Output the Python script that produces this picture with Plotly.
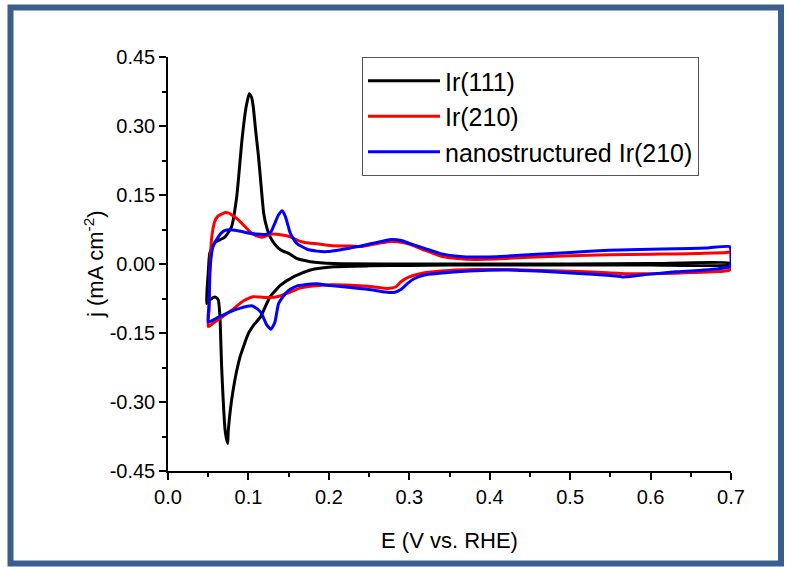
import plotly.graph_objects as go

# ---------------- data ----------------
names = ["Ir(111)", "Ir(210)", "nanostructured Ir(210)"]
colors = ["#000000", "#FF0000", "#0000FF"]

# Ir(111): anodic sweep then cathodic sweep
ir111_E = [0.048, 0.050, 0.052, 0.058, 0.065, 0.071, 0.079, 0.0855, 0.092, 0.097,
           0.101, 0.104, 0.106, 0.109, 0.1125, 0.116, 0.119, 0.123, 0.127, 0.132,
           0.1375, 0.143, 0.150, 0.160, 0.177, 0.206, 0.30, 0.40, 0.50, 0.60, 0.70,
           0.70, 0.60, 0.50, 0.40, 0.30, 0.25, 0.206, 0.177, 0.156, 0.140, 0.127,
           0.115, 0.107, 0.100, 0.0896, 0.081, 0.075, 0.0742, 0.0725, 0.071, 0.0667,
           0.0646, 0.0625, 0.059, 0.056, 0.052, 0.048]
ir111_j = [-0.086, -0.020, 0.024, 0.046, 0.053, 0.059, 0.081, 0.147, 0.270, 0.340,
           0.370, 0.362, 0.342, 0.290, 0.234, 0.165, 0.110, 0.078, 0.059, 0.045,
           0.034, 0.028, 0.023, 0.012, 0.005, 0.001, 0.000, 0.000, 0.000, 0.001, 0.002,
           -0.002, -0.002, -0.002, -0.002, -0.003, -0.004, -0.006, -0.013, -0.028, -0.046, -0.071,
           -0.115, -0.132, -0.151, -0.202, -0.274, -0.361, -0.390, -0.378, -0.361, -0.224,
           -0.115, -0.078, -0.072, -0.073, -0.078, -0.086]

# Ir(210)
ir210_E = [0.050, 0.051, 0.052, 0.054, 0.058, 0.062, 0.065, 0.071, 0.075, 0.079,
           0.0875, 0.096, 0.104, 0.110, 0.117, 0.123, 0.129, 0.142, 0.152, 0.165,
           0.177, 0.185, 0.202, 0.215, 0.227, 0.240, 0.252, 0.265, 0.277, 0.294,
           0.305, 0.319, 0.340, 0.360, 0.381, 0.420, 0.465, 0.500, 0.548, 0.600,
           0.631, 0.660, 0.694, 0.699, 0.700, 0.700, 0.698,
           0.690, 0.631, 0.600, 0.569, 0.520, 0.465, 0.420, 0.381, 0.350, 0.319,
           0.300, 0.290, 0.283, 0.273, 0.252, 0.227, 0.202, 0.180, 0.165, 0.148,
           0.138, 0.127, 0.115, 0.106, 0.094, 0.081, 0.069, 0.056, 0.050]
ir210_j = [-0.136, -0.100, -0.020, 0.052, 0.092, 0.104, 0.107, 0.112, 0.111, 0.107,
           0.096, 0.081, 0.067, 0.061, 0.058, 0.062, 0.065, 0.063, 0.059, 0.049,
           0.045, 0.044, 0.040, 0.039, 0.039, 0.038, 0.042, 0.046, 0.049, 0.046,
           0.040, 0.030, 0.017, 0.012, 0.010, 0.012, 0.016, 0.018, 0.020, 0.021,
           0.022, 0.023, 0.025, 0.026, 0.015, -0.005, -0.013,
           -0.016, -0.020, -0.021, -0.021, -0.017, -0.014, -0.012, -0.012, -0.014, -0.019,
           -0.028, -0.038, -0.050, -0.053, -0.049, -0.046, -0.045, -0.048, -0.052, -0.064,
           -0.070, -0.073, -0.072, -0.071, -0.080, -0.098, -0.113, -0.129, -0.136]

# nanostructured Ir(210)
nano_E = [0.050, 0.051, 0.052, 0.054, 0.056, 0.0625, 0.068, 0.073, 0.0855, 0.098,
          0.110, 0.123, 0.128, 0.131, 0.1375, 0.142, 0.146, 0.149, 0.152, 0.160,
          0.173, 0.185, 0.198, 0.215, 0.227, 0.240, 0.252, 0.265, 0.277, 0.290,
          0.300, 0.319, 0.340, 0.360, 0.381, 0.420, 0.465, 0.500, 0.548, 0.600,
          0.631, 0.670, 0.698, 0.700, 0.700, 0.698,
          0.694, 0.660, 0.631, 0.600, 0.575, 0.565, 0.550, 0.506, 0.465, 0.423,
          0.390, 0.360, 0.319, 0.306, 0.298, 0.290, 0.281, 0.270, 0.252, 0.227,
          0.202, 0.185, 0.170, 0.160, 0.152, 0.146, 0.1375, 0.133, 0.128, 0.123,
          0.119, 0.115, 0.108, 0.104, 0.090, 0.077, 0.060, 0.050]
nano_j = [-0.126, -0.090, -0.020, 0.020, 0.038, 0.059, 0.070, 0.074, 0.073, 0.068,
          0.065, 0.065, 0.070, 0.081, 0.107, 0.116, 0.103, 0.085, 0.067, 0.045,
          0.032, 0.028, 0.027, 0.031, 0.035, 0.039, 0.044, 0.049, 0.053, 0.051,
          0.045, 0.034, 0.022, 0.017, 0.015, 0.017, 0.022, 0.025, 0.030, 0.032,
          0.033, 0.035, 0.038, 0.030, 0.000, -0.006,
          -0.008, -0.014, -0.017, -0.022, -0.027, -0.028, -0.025, -0.020, -0.016, -0.013,
          -0.014, -0.017, -0.024, -0.032, -0.042, -0.055, -0.062, -0.061, -0.056, -0.051,
          -0.047, -0.043, -0.045, -0.048, -0.055, -0.064, -0.086, -0.126, -0.142, -0.133,
          -0.118, -0.104, -0.094, -0.091, -0.096, -0.104, -0.118, -0.126]

x_tickvals = [0.0, 0.1, 0.2, 0.3, 0.4, 0.5, 0.6, 0.7]
x_ticktext = ["0.0", "0.1", "0.2", "0.3", "0.4", "0.5", "0.6", "0.7"]
y_tickvals = [0.45, 0.30, 0.15, 0.0, -0.15, -0.30, -0.45]
y_ticktext = ["0.45", "0.30", "0.15", "0.00", "-0.15", "-0.30", "-0.45"]

x_title = "E (V vs. RHE)"
y_title = "j (mA cm<sup>-2</sup>)"

# ---------------- figure ----------------
FONT = "Liberation Sans, Arial, sans-serif"
W, H = 787, 567
ML, MR, MT, MB = 168, 56, 57, 96

series = [(ir111_E, ir111_j), (ir210_E, ir210_j), (nano_E, nano_j)]
fig = go.Figure()
for i, (xs, ys) in enumerate(series):
    fig.add_trace(go.Scatter(x=xs, y=ys, mode="lines", name=names[i],
                             line=dict(color=colors[i], width=3, shape="spline", smoothing=0.5)))

pw = W - ML - MR
ph = H - MT - MB
# outer frame (paper coordinates)
fx0 = (10.5 - ML) / pw
fx1 = (781 - ML) / pw
fy0 = ((H - MB) - 563.5) / ph
fy1 = ((H - MB) - 7.5) / ph
fig.add_shape(type="rect", xref="paper", yref="paper", x0=fx0, x1=fx1, y0=fy0, y1=fy1,
              line=dict(color="#3B5E8C", width=6), fillcolor="rgba(0,0,0,0)", layer="above")

axis_common = dict(showgrid=False, zeroline=False, showline=True, linecolor="black",
                   linewidth=1.5, ticks="outside", ticklen=7, tickwidth=1.5,
                   tickcolor="black", tickfont=dict(family=FONT, size=20, color="black"),
                   mirror=False)
fig.update_xaxes(range=[0, 0.7], tickvals=x_tickvals, ticktext=x_ticktext,
                 minor=dict(dtick=0.05, ticks="outside", ticklen=4, tickwidth=1.5, tickcolor="black"),
                 title=dict(text=x_title, font=dict(family=FONT, size=22, color="black"), standoff=26),
                 **axis_common)
fig.update_yaxes(range=[-0.45, 0.45], tickvals=y_tickvals, ticktext=y_ticktext,
                 minor=dict(dtick=0.075, ticks="outside", ticklen=4, tickwidth=1.5, tickcolor="black"),
                 **axis_common)

# y-axis title placed as a rotated text just left of the tick labels
fig.add_annotation(text=y_title, xref="paper", yref="paper",
                   x=(94 - ML) / pw, y=0.5, xanchor="center", yanchor="middle",
                   textangle=-90, showarrow=False,
                   font=dict(family=FONT, size=22, color="black"))

fig.update_layout(
    width=W, height=H,
    margin=dict(l=ML, r=MR, t=MT, b=MB),
    paper_bgcolor="white", plot_bgcolor="white",
    font=dict(family=FONT, color="black"),
    legend=dict(x=(362 - ML) / pw, y=1.0, xanchor="left", yanchor="top",
                bordercolor="#555555", borderwidth=1, bgcolor="white",
                font=dict(family=FONT, size=25, color="black"),
                tracegroupgap=0, itemwidth=72),
    showlegend=True,
)

fig.write_html("out.html")
